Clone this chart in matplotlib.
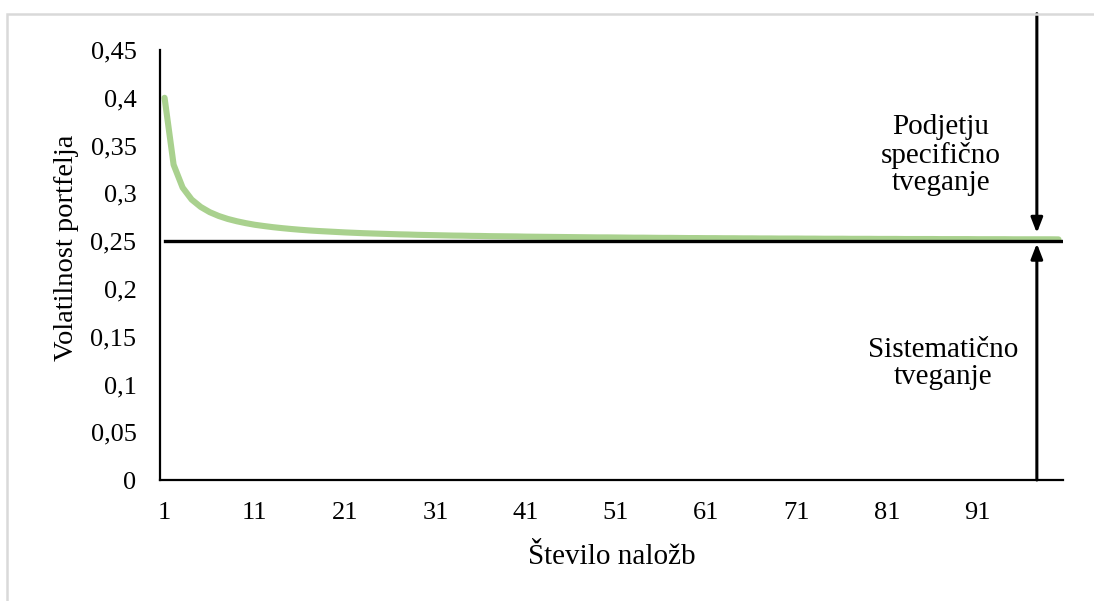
import matplotlib
matplotlib.use('Agg')
import matplotlib.pyplot as plt
from matplotlib.patches import Rectangle

plt.rcParams['font.family'] = ['Liberation Serif', 'DejaVu Serif']

# volatility of an equally weighted portfolio vs number of holdings
n_assets = list(range(1, 101))
volatility = [
    0.4000, 0.3300, 0.3060, 0.2935, 0.2858, 0.2803, 0.2763, 0.2732, 0.2708, 0.2688,
    0.2671, 0.2658, 0.2646, 0.2636, 0.2627, 0.2619, 0.2612, 0.2606, 0.2601, 0.2596,
    0.2591, 0.2587, 0.2583, 0.2580, 0.2577, 0.2574, 0.2571, 0.2569, 0.2566, 0.2564,
    0.2562, 0.2560, 0.2558, 0.2557, 0.2555, 0.2554, 0.2552, 0.2551, 0.2550, 0.2549,
    0.2547, 0.2546, 0.2545, 0.2544, 0.2543, 0.2542, 0.2541, 0.2540, 0.2539, 0.2539,
    0.2538, 0.2537, 0.2536, 0.2536, 0.2535, 0.2534, 0.2534, 0.2533, 0.2532, 0.2532,
    0.2531, 0.2531, 0.2530, 0.2530, 0.2529, 0.2529, 0.2528, 0.2528, 0.2527, 0.2527,
    0.2527, 0.2526, 0.2526, 0.2525, 0.2525, 0.2525, 0.2524, 0.2524, 0.2524, 0.2523,
    0.2523, 0.2523, 0.2522, 0.2522, 0.2522, 0.2522, 0.2521, 0.2521, 0.2521, 0.2521,
    0.2520, 0.2520, 0.2520, 0.2520, 0.2519, 0.2519, 0.2519, 0.2519, 0.2519, 0.2518,
]
systematic = 0.25

xticks = list(range(1, 101, 10))
yticks = [0, 0.05, 0.1, 0.15, 0.2, 0.25, 0.3, 0.35, 0.4, 0.45]
ytick_labels = ['0', '0,05', '0,1', '0,15', '0,2', '0,25', '0,3', '0,35', '0,4', '0,45']

fig = plt.figure(figsize=(10.94, 6.01), dpi=100)
ax = fig.add_axes([0.1463, 0.2013, 0.8254, 0.7155])

# light grey frame around the chart area
fig.patches.append(Rectangle((0.0064, -0.1), 1.2, 1.1 - 14 / 601, transform=fig.transFigure,
                             fill=False, edgecolor='#d9d9d9', linewidth=1.8, clip_on=False))

ax.plot(n_assets, volatility, color='#a9d18e', linewidth=4.4, solid_capstyle='round',
        solid_joinstyle='round', zorder=2)
ax.plot([1, 100.5], [systematic, systematic], color='black', linewidth=2.4, zorder=3)

ax.set_xlim(0.5, 100.5)
ax.set_ylim(0, 0.45)
ax.set_xticks(xticks)
ax.set_xticklabels([str(t) for t in xticks])
ax.set_yticks(yticks)
ax.set_yticklabels(ytick_labels)
ax.tick_params(length=0, labelsize=19)
ax.tick_params(axis='y', pad=17)
ax.tick_params(axis='x', pad=16)

for side in ['top', 'right']:
    ax.spines[side].set_visible(False)
for side in ['left', 'bottom']:
    ax.spines[side].set_linewidth(1.6)
    ax.spines[side].set_color('black')

ax.set_xlabel('Število naložb', fontsize=21, labelpad=14)
ax.set_ylabel('Volatilnost portfelja', fontsize=20.5)
ax.yaxis.set_label_coords(-0.09, 0.54)

# arrows splitting total risk into its two parts
arrow_x = 97.6
arrow = dict(arrowstyle='-|>,head_length=0.9,head_width=0.35', color='black', linewidth=2.2,
             shrinkA=0, shrinkB=0)
ax.annotate('', xy=(arrow_x, 0.2585), xytext=(arrow_x, 0.488), arrowprops=arrow,
            annotation_clip=False)
ax.annotate('', xy=(arrow_x, 0.2475), xytext=(arrow_x, 0.0), arrowprops=arrow,
            annotation_clip=False)

ax.text(87.0, 0.340, 'Podjetju\nspecifično\ntveganje', ha='center', va='center',
        fontsize=21, linespacing=1.08)
ax.text(87.2, 0.122, 'Sistematično\ntveganje', ha='center', va='center',
        fontsize=21, linespacing=1.05)

fig.savefig('out.png', dpi=100)
